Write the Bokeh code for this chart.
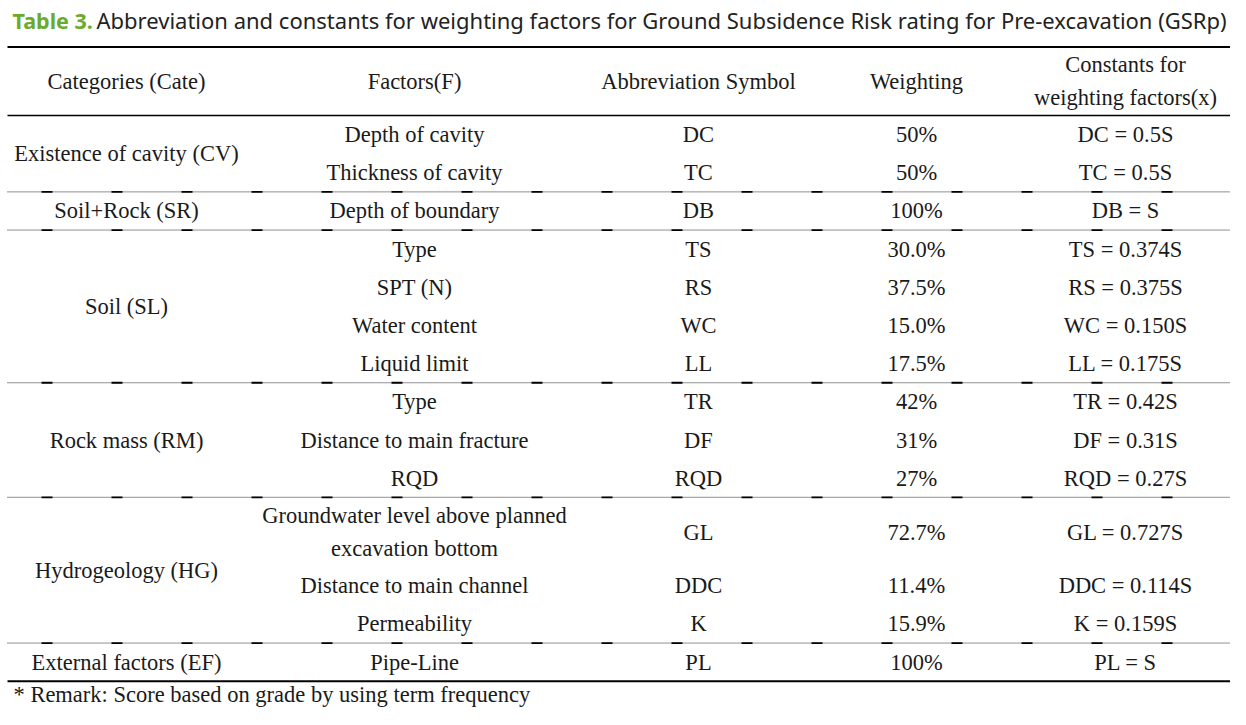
from bokeh.plotting import figure
from bokeh.models import Range1d
from bokeh.embed import file_html
from bokeh.resources import INLINE
from bokeh.core.properties import value

# ---------------- data ----------------
title_label = "Table 3."
title_text = ("Abbreviation and constants for weighting factors for Ground Subsidence "
              "Risk rating for Pre-excavation (GSRp)")
headers = ["Categories (Cate)", "Factors(F)", "Abbreviation Symbol", "Weighting",
           "Constants for\nweighting factors(x)"]
categories = ["Existence of cavity (CV)", "Soil+Rock (SR)", "Soil (SL)",
              "Rock mass (RM)", "Hydrogeology (HG)", "External factors (EF)"]
group_sizes = [2, 1, 4, 3, 3, 1]
factors = ["Depth of cavity", "Thickness of cavity", "Depth of boundary",
           "Type", "SPT (N)", "Water content", "Liquid limit",
           "Type", "Distance to main fracture", "RQD",
           "Groundwater level above planned\nexcavation bottom",
           "Distance to main channel", "Permeability", "Pipe-Line"]
abbreviations = ["DC", "TC", "DB", "TS", "RS", "WC", "LL", "TR", "DF", "RQD",
                 "GL", "DDC", "K", "PL"]
weightings = ["50%", "50%", "100%", "30.0%", "37.5%", "15.0%", "17.5%",
              "42%", "31%", "27%", "72.7%", "11.4%", "15.9%", "100%"]
constants = ["DC = 0.5S", "TC = 0.5S", "DB = S", "TS = 0.374S", "RS = 0.375S",
             "WC = 0.150S", "LL = 0.175S", "TR = 0.42S", "DF = 0.31S",
             "RQD = 0.27S", "GL = 0.727S", "DDC = 0.114S", "K = 0.159S",
             "PL = S"]
remark = "* Remark: Score based on grade by using term frequency"

# ---------------- layout ----------------
W, H = 1230, 709
X0, X1 = 8, 1231
COL_X = [127, 415, 699, 917, 1126]
TOP_Y = 48
HEAD_BOT = 117
ROW_H = 38.5
LINE_GAP = 33
SERIF = value("Liberation Serif")
FS = "22.5px"
TXT = "#1a1a1a"

p = figure(width=W, height=H, x_range=Range1d(1, 1 + W), y_range=Range1d(716, 1),
           output_backend="svg", toolbar_location=None, min_border=0,
           x_axis_location=None, y_axis_location=None)
p.grid.visible = False
p.outline_line_color = None
p.background_fill_color = "white"
p.border_fill_color = "white"


def put(x, y, txt, size=FS, font=SERIF, color=TXT, align="center", style="normal"):
    p.text(x=[x], y=[y], text=[txt], text_font=font, text_font_size=size,
           text_color=color, text_align=align, text_baseline="middle",
           text_font_style=style)


def put_lines(x, yc, txt):
    lines = txt.split("\n")
    n = len(lines)
    for i, ln in enumerate(lines):
        put(x, yc + (i - (n - 1) / 2) * LINE_GAP, ln)


def hline(y, width=1.0, color="black"):
    p.line(x=[X0, X1], y=[y, y], line_width=width, line_color=color)


def dashdot(y):
    p.line(x=[X0, X1], y=[y, y], line_width=1, line_color="#222222", line_dash="1 1")
    p.line(x=[X0, X1], y=[y, y], line_width=1.8, line_color="black",
           line_dash="11 59", line_dash_offset=36)


# title
put(13, 21, title_label, size="21.5px", font=value("Noto Sans"), color="#6bab2b",
    align="left", style="bold")
put(97, 21, title_text, size="22px", font=value("Noto Sans"), color="#222222",
    align="left")

# header
hline(TOP_Y, 2)
hc = (TOP_Y + HEAD_BOT) / 2
for x, h in zip(COL_X, headers):
    put_lines(x, hc, h)
hline(HEAD_BOT, 1.6)

# body
y = HEAD_BOT
k = 0
for gi, (cat, n) in enumerate(zip(categories, group_sizes)):
    g_top = y
    for j in range(n):
        nl = factors[k].count("\n") + 1
        rh = ROW_H + (nl - 1) * 31.5
        yc = y + rh / 2
        put_lines(COL_X[1], yc, factors[k])
        put(COL_X[2], yc, abbreviations[k])
        put(COL_X[3], yc, weightings[k])
        put(COL_X[4], yc, constants[k])
        y += rh
        k += 1
    put(COL_X[0], (g_top + y) / 2, cat)
    if gi < len(categories) - 1:
        dashdot(y)
    else:
        hline(y, 2)

put(14, y + 13.5, remark, align="left")

open("out.html", "w").write(file_html(p, INLINE))
